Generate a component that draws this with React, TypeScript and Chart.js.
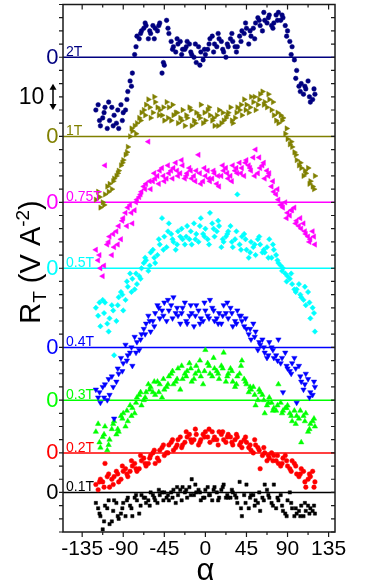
import { useEffect, useRef } from "react";
import { Chart, registerables } from "chart.js";
Chart.register(...registerables);

// angles (degrees) of the three sweeps
const ALPHA_A = [-120,-115,-110,-105,-100,-95,-90,-85,-80,-75,-70,-65,-60,-55,-50,-45,-40,-35,-30,-25,-20,-15,-10,-5,0,5,10,15,20,25,30,35,40,45,50,55,60,65,70,75,80,85,90,95,100,105,110,115,120];
const ALPHA_B = [-117.5,-112.5,-107.5,-102.5,-97.5,-92.5,-87.5,-82.5,-77.5,-72.5,-67.5,-62.5,-57.5,-52.5,-47.5,-42.5,-37.5,-32.5,-27.5,-22.5,-17.5,-12.5,-7.5,-2.5,2.5,7.5,12.5,17.5,22.5,27.5,32.5,37.5,42.5,47.5,52.5,57.5,62.5,67.5,72.5,77.5,82.5,87.5,92.5,97.5,102.5,107.5,112.5,117.5];
const ALPHA_C = [-116,-111,-106,-101,-96,-91,-86,-81,-76,-71,-66,-61,-56,-51,-46,-41,-36,-31,-26,-21,-16,-11,-6,-1,4,9,14,19,24,29,34,39,44,49,54,59,64,69,74,79,84,89,94,99,104,109,114,119];

const FIELDS = ["2T", "1T", "0.75T", "0.5T", "0.4T", "0.3T", "0.2T", "0.1T"];
const OFFSETS = [180, 150, 125, 100, 70, 50, 30, 15];
const COLORS = ["#000080", "#808000", "#ff00ff", "#00ffff", "#0000ff", "#00ff00", "#ff0000", "#000000"];

const R_2T_A = [-20,-26,-19,-24,-22,-27,-21,-13,-6,8,10,12,9,11,13,-3,9,4,5,3,6,1,-2,2,1,7,5,7,2,4,6,4,10,11,8,13,12,14,16,13,17,15,10,4,-5,-10,-12,-17,-14];
const R_2T_B = [-18,-23,-27,-19,-25,-18,-20,-9,1,7,11,7,12,10,-6,14,6,2,6,3,5,0,4,-1,3,8,4,6,0,7,4,8,9,5,11,15,10,13,12,16,14,12,6,-1,-11,-14,-9,-16];
const R_2T_C = [-24,-21,-17,-26,-20,-24,-16,-11,4,9,13,10,7,12,-2,11,3,7,1,4,2,5,-3,3,5,2,9,3,5,9,2,6,13,10,7,14,17,15,11,14,16,8,1,-8,-13,-11,-15,-12];
const R_1T_A = [-24,-27,-22,-18,-16,-13,-9,-4,2,5,9,12,7,13,10,6,11,8,5,10,7,4,9,12,6,8,4,10,6,9,5,11,8,12,15,10,16,13,14,8,5,7,-1,-4,-9,-12,-14,-17,-15];
const R_1T_B = [-21,-25,-19,-20,-15,-11,-7,0,4,7,10,14,9,11,8,13,6,9,7,4,11,6,8,5,10,6,8,5,7,11,7,10,14,9,13,12,17,11,10,6,8,1,-3,-6,-11,-15,-12,-19];
const R_1T_C = [-23,-26,-21,-17,-14,-10,-6,3,1,6,8,11,15,8,11,7,12,9,6,8,10,5,7,9,11,7,4,9,8,6,9,12,10,11,15,14,12,16,13,9,6,3,-2,-7,-10,-13,-18,-20];
const R_075T_A = [-18,-25,14,-13,-17,-9,-6,-2,-8,1,4,7,5,9,12,8,11,13,10,14,11,9,12,7,10,8,11,6,12,9,14,11,13,16,12,20,13,9,11,4,1,-2,-4,-3,-7,-10,-12,-14,-16];
const R_075T_B = [-22,-28,-16,-20,-11,-14,-4,-1,-3,2,6,23,8,10,13,9,12,15,11,9,13,10,18,8,12,9,7,10,13,10,12,15,10,14,17,11,14,12,6,3,-1,0,-5,-2,-9,-8,-13,-11];
const R_075T_C = [-20,-24,-15,-12,-16,-7,-9,-4,0,3,5,8,11,7,10,14,9,12,16,10,12,8,11,13,9,12,10,14,11,8,13,11,15,13,10,17,15,10,8,5,-1,-6,-3,-8,-6,-11,-15,-13];
const R_05T_A = [-15,-22,-13,-19,-33,-11,-16,-7,-4,-6,0,3,6,2,9,12,17,10,14,11,16,9,13,19,15,21,12,16,10,14,8,28,12,7,10,5,9,6,11,7,2,0,-3,-6,-8,-11,-14,-19,-24];
const R_05T_B = [-18,-12,-21,-14,-20,-9,-12,-2,-8,-3,2,-1,7,5,19,8,13,7,12,9,11,17,10,13,11,17,14,8,12,16,11,9,13,4,8,11,6,8,4,5,1,-2,-4,-8,-6,-12,-9,-15];
const R_05T_C = [-13,-17,-24,-16,-14,-10,-5,-9,-2,-4,4,1,4,11,7,14,11,9,15,12,14,11,16,12,9,15,18,11,13,10,14,7,11,6,9,12,7,4,9,3,-1,-5,-2,-9,-10,-7,-13,-17];
const R_04T_A = [-16,-21,-14,-18,-27,-10,-6,-3,-7,2,5,9,6,13,11,17,14,19,12,15,9,13,16,11,14,18,10,13,16,11,8,14,10,7,3,6,1,-2,2,-4,3,-17,-8,-6,-21,-13,-10,-17,-15];
const R_04T_B = [-19,-15,-20,-11,-13,-4,1,-2,4,-1,7,12,10,16,14,10,16,13,9,17,12,8,14,10,12,15,11,9,13,15,10,12,8,5,9,-1,3,-4,0,-3,-6,-2,-9,-4,-7,-16,-12,-18];
const R_04T_C = [-17,-19,-12,-15,-8,-9,-5,0,-2,3,5,10,8,15,12,18,11,15,13,10,16,12,9,17,11,14,9,12,17,13,9,12,11,7,4,2,0,-3,-1,-5,-4,-7,-10,-8,-11,-14,-19,-13];
const R_03T_A = [-12,-18,-10,-15,-8,-12,-5,-8,-3,1,-2,3,5,2,6,4,9,6,12,8,11,7,13,9,19,10,12,8,18,10,7,9,15,6,4,-2,3,-5,1,-3,6,-4,-2,-8,-6,-16,-5,-9,-10];
const R_03T_B = [-9,-14,-19,-11,-13,-6,-10,-2,-5,2,0,6,3,7,1,5,10,7,4,10,14,8,11,6,14,9,11,13,7,12,5,10,8,3,5,0,2,-2,-1,-4,-1,-3,-5,-4,-7,-6,-12,-8];
const R_03T_C = [-16,-13,-17,-9,-11,-7,-4,-6,-1,3,1,4,7,3,8,6,11,8,13,9,12,10,15,11,13,16,10,12,9,11,6,13,7,5,2,4,0,-1,-4,-2,-5,-3,-6,-9,-4,-8,-11,-7];
const R_02T_A = [-12,-10,-4,-13,-9,-11,-7,-9,-5,-7,-3,-5,-1,-4,1,-1,3,1,5,3,6,4,7,5,8,4,6,8,5,7,3,6,2,4,1,3,-6,0,-2,-1,-4,-2,-5,-3,-8,-6,-13,-9,-11];
const R_02T_B = [-14,-11,-9,-10,-7,-10,-6,-7,-4,-6,-2,-4,0,-2,2,0,4,2,6,4,7,5,3,7,6,8,5,7,4,6,5,3,5,2,0,2,-1,-3,0,-3,-5,-1,-6,-4,-9,-7,-10,-7];
const R_02T_C = [-11,-13,-8,-12,-8,-5,-8,-3,-6,-1,-4,-2,1,-3,3,0,5,3,2,8,5,9,4,6,9,5,3,8,6,4,7,4,6,3,5,1,2,-1,-3,-1,-4,-3,-7,-5,-8,-11,-8,-13];
const R_01T_A = [-4,-9,-5,-12,-3,-10,-4,-2,-9,-3,-1,-4,0,-3,-1,0,-3,1,-1,2,-2,5,0,-3,1,-1,2,-2,3,-2,0,-4,-9,3,-1,-3,-7,3,-2,3,-3,-7,-3,-6,-8,-5,-7,-6,-8];
const R_01T_B = [-6,-14,-6,-11,-4,-8,-9,-5,-2,-8,-2,-3,-1,-4,0,-2,0,-4,1,0,2,-1,1,-2,2,-3,0,1,-2,-2,-1,4,-1,-6,-1,-4,-2,1,-4,-6,-1,-8,0,-9,-7,-9,-5,-7];
const R_01T_C = [-8,-11,-3,-7,-9,-6,-3,-6,-1,-5,-2,-5,-2,1,-3,-1,-2,2,-3,1,-1,3,0,-2,-1,1,-3,2,-1,1,-2,-6,-4,-2,-5,0,-3,-1,-5,-2,-5,-9,-4,-6,-9,-4,-8,-5];

const SERIES_A = [R_2T_A, R_1T_A, R_075T_A, R_05T_A, R_04T_A, R_03T_A, R_02T_A, R_01T_A];
const SERIES_B = [R_2T_B, R_1T_B, R_075T_B, R_05T_B, R_04T_B, R_03T_B, R_02T_B, R_01T_B];
const SERIES_C = [R_2T_C, R_1T_C, R_075T_C, R_05T_C, R_04T_C, R_03T_C, R_02T_C, R_01T_C];

const X_TICKS = [-135, -90, -45, 0, 45, 90, 135];
const X_MIN = -156;
const X_MAX = 142;
const Y_MIN = 0;
const Y_MAX = 200;
const SCALE_BAR = [160, 170];
const SCALE_BAR_LABEL = "10";

const STYLES = [
  { pointStyle: "circle", rotation: 0, radius: 2.3 },
  { pointStyle: "triangle", rotation: 90, radius: 3.1 },
  { pointStyle: "triangle", rotation: 270, radius: 3.1 },
  { pointStyle: "rectRot", rotation: 0, radius: 2.7 },
  { pointStyle: "triangle", rotation: 180, radius: 3.1 },
  { pointStyle: "triangle", rotation: 0, radius: 3.1 },
  { pointStyle: "circle", rotation: 0, radius: 2.3 },
  { pointStyle: "rect", rotation: 0, radius: 2.3 },
];

const FONT = "'Liberation Sans', Arial, sans-serif";

const decor = {
  id: "decor",
  afterDraw(chart: any) {
    const { ctx, chartArea: ca, scales } = chart;
    const xs = scales.x;
    const ys = scales.y;
    ctx.save();
    ctx.strokeStyle = "#1a1a1a";
    ctx.fillStyle = "#000";
    ctx.lineWidth = 1.5;
    ctx.strokeRect(ca.left, ca.top, ca.right - ca.left, ca.bottom - ca.top);
    // y ticks every 5
    ctx.lineWidth = 1.2;
    for (let v = Y_MIN; v <= Y_MAX; v += 5) {
      const py = ys.getPixelForValue(v);
      ctx.beginPath();
      ctx.moveTo(ca.left - 4, py);
      ctx.lineTo(ca.left, py);
      ctx.moveTo(ca.right - 4, py);
      ctx.lineTo(ca.right, py);
      ctx.stroke();
    }
    // x ticks every 22.5
    for (let v = -135; v <= 135; v += 22.5) {
      const px = xs.getPixelForValue(v);
      const major = Math.abs(v % 45) < 1e-6;
      const len = major ? 5 : 3;
      ctx.beginPath();
      ctx.moveTo(px, ca.bottom);
      ctx.lineTo(px, ca.bottom + len);
      ctx.moveTo(px, ca.top);
      ctx.lineTo(px, ca.top + len);
      ctx.stroke();
    }
    // x tick labels
    ctx.font = `21px ${FONT}`;
    ctx.textAlign = "center";
    ctx.textBaseline = "alphabetic";
    X_TICKS.forEach((t) => {
      ctx.fillText(String(t), xs.getPixelForValue(t), 555);
    });
    // x title
    ctx.font = `31px ${FONT}`;
    ctx.fillText("\u03b1", xs.getPixelForValue(0), 580);

    // zero labels and field labels
    FIELDS.forEach((f, i) => {
      const py = ys.getPixelForValue(OFFSETS[i]);
      ctx.fillStyle = COLORS[i];
      ctx.font = `22px ${FONT}`;
      ctx.textAlign = "right";
      ctx.textBaseline = "middle";
      ctx.fillText("0", 58.5, py + 0.5);
      ctx.font = `14px ${FONT}`;
      ctx.textAlign = "left";
      ctx.textBaseline = "alphabetic";
      ctx.fillText(f, ca.left + 3, py - 1);
    });

    // scale bar
    ctx.fillStyle = "#000";
    ctx.strokeStyle = "#000";
    const y1 = ys.getPixelForValue(SCALE_BAR[0]);
    const y2 = ys.getPixelForValue(SCALE_BAR[1]);
    const ax = 53;
    ctx.lineWidth = 1.5;
    ctx.beginPath();
    ctx.moveTo(ax, y2 + 4);
    ctx.lineTo(ax, y1 - 4);
    ctx.stroke();
    ctx.beginPath();
    ctx.moveTo(ax, y2);
    ctx.lineTo(ax - 3.5, y2 + 6);
    ctx.lineTo(ax + 3.5, y2 + 6);
    ctx.closePath();
    ctx.fill();
    ctx.beginPath();
    ctx.moveTo(ax, y1);
    ctx.lineTo(ax - 3.5, y1 - 6);
    ctx.lineTo(ax + 3.5, y1 - 6);
    ctx.closePath();
    ctx.fill();
    ctx.font = `23px ${FONT}`;
    ctx.textAlign = "center";
    ctx.textBaseline = "middle";
    ctx.fillText(SCALE_BAR_LABEL, 31.5, (y1 + y2) / 2 + 1);

    // y title  R_T (V A^-2)
    const big = 29;
    const small = 19;
    const parts = [
      { t: "R", s: big, dy: 0 },
      { t: "T", s: small, dy: 6 },
      { t: " (V A", s: big, dy: 0 },
      { t: "-2", s: small, dy: -11 },
      { t: ")", s: big, dy: 0 },
    ];
    let total = 0;
    parts.forEach((p) => {
      ctx.font = `${p.s}px ${FONT}`;
      total += ctx.measureText(p.t).width;
    });
    ctx.translate(40, 262);
    ctx.rotate(-Math.PI / 2);
    ctx.textAlign = "left";
    ctx.textBaseline = "alphabetic";
    let cx = -total / 2;
    parts.forEach((p) => {
      ctx.font = `${p.s}px ${FONT}`;
      ctx.fillText(p.t, cx, p.dy);
      cx += ctx.measureText(p.t).width;
    });
    ctx.restore();
  },
};

export default function App() {
  const ref = useRef<HTMLCanvasElement | null>(null);
  useEffect(() => {
    if (!ref.current) return;
    const datasets: any[] = [];
    FIELDS.forEach((f, i) => {
      datasets.push({
        type: "line",
        label: f + " zero",
        data: [
          { x: X_MIN, y: OFFSETS[i] },
          { x: X_MAX, y: OFFSETS[i] },
        ],
        borderColor: COLORS[i],
        borderWidth: 1.5,
        pointRadius: 0,
        order: 2,
      });
    });
    FIELDS.forEach((f, i) => {
      const st = STYLES[i];
      const pts = ALPHA_A.map((a, k) => ({ x: a, y: OFFSETS[i] + SERIES_A[i][k] }))
        .concat(ALPHA_B.map((a, k) => ({ x: a, y: OFFSETS[i] + SERIES_B[i][k] })))
        .concat(ALPHA_C.map((a, k) => ({ x: a, y: OFFSETS[i] + SERIES_C[i][k] })));
      datasets.push({
        type: "scatter",
        label: f,
        data: pts,
        pointStyle: st.pointStyle,
        pointRotation: st.rotation,
        pointRadius: st.radius,
        pointBackgroundColor: COLORS[i],
        pointBorderColor: COLORS[i],
        pointBorderWidth: 0.5,
        showLine: false,
        order: 1,
      });
    });
    const chart = new Chart(ref.current, {
      type: "scatter",
      data: { datasets },
      options: {
        responsive: false,
        animation: false,
        layout: { padding: { left: 63, right: 46, top: 1.5, bottom: 50 } },
        plugins: { legend: { display: false }, tooltip: { enabled: false } },
        scales: {
          x: { type: "linear", min: X_MIN, max: X_MAX, display: false },
          y: { type: "linear", min: Y_MIN, max: Y_MAX, display: false },
        },
      },
      plugins: [decor],
    });
    return () => chart.destroy();
  }, []);
  return (
    <div style={{ position: "fixed", left: 0, top: 0, width: 381, height: 582, background: "#fff" }}>
      <canvas ref={ref} width={381} height={582} style={{ display: "block", width: 381, height: 582 }} />
    </div>
  );
}
